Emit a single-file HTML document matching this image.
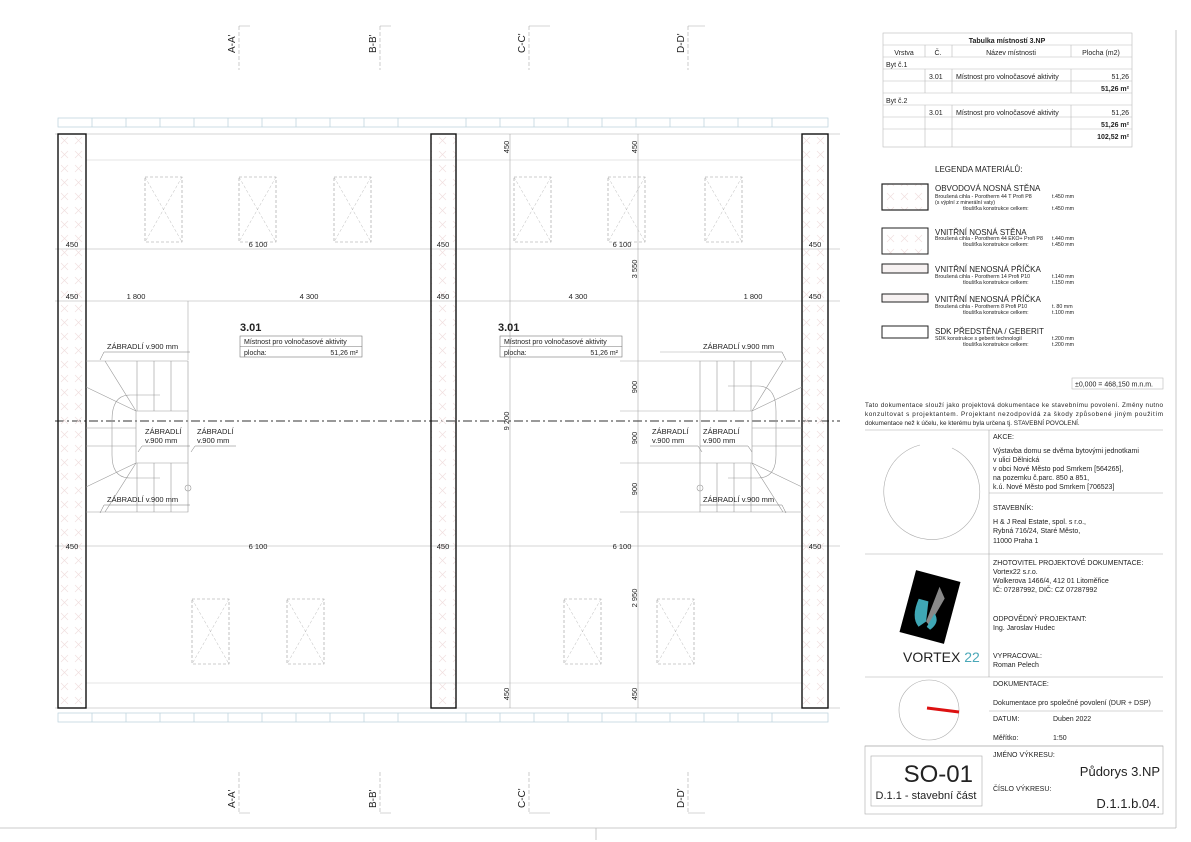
<!DOCTYPE html>
<html><head><meta charset="utf-8"><style>
html,body{margin:0;padding:0;background:#fff}
svg{display:block}
text{font-family:"Liberation Sans",sans-serif;fill:#222}
</style></head><body>
<svg width="1191" height="842" viewBox="0 0 1191 842" xmlns="http://www.w3.org/2000/svg">
<defs>
<pattern id="hx" x="58" y="134" width="14" height="14" patternUnits="userSpaceOnUse">
<path d="M3 3 L10 10 M10 3 L3 10" stroke="#f0dede" stroke-width="0.7"/>
</pattern>
<g id="win"><rect x="0" y="0" width="37" height="65" fill="none" stroke="#999" stroke-width="0.6" stroke-dasharray="3 2"/><path d="M0 0 L37 65 M37 0 L0 65" stroke="#bbb" stroke-width="0.5" stroke-dasharray="3 2"/></g>
</defs>

<!-- parapet bands -->
<g stroke="#b9d0dc" stroke-width="0.7" fill="none">
<rect x="58" y="118" width="770" height="9"/>
<rect x="58" y="713" width="770" height="9"/>
<path d="M92 118v9M126 118v9M160 118v9M194 118v9M228 118v9M262 118v9M296 118v9M330 118v9M364 118v9M398 118v9M466 118v9M500 118v9M534 118v9M568 118v9M602 118v9M636 118v9M670 118v9M704 118v9M738 118v9M772 118v9
M92 713v9M126 713v9M160 713v9M194 713v9M228 713v9M262 713v9M296 713v9M330 713v9M364 713v9M398 713v9M466 713v9M500 713v9M534 713v9M568 713v9M602 713v9M636 713v9M670 713v9M704 713v9M738 713v9M772 713v9"/>
</g>

<!-- dimension lines -->
<g stroke="#aaa" stroke-width="0.6" fill="none">
<path d="M55 134H840 M55 708H840"/>
<path d="M55 249H840 M55 301H840 M55 546H840"/>
<path d="M86 160H802 M86 683H802" stroke="#ccc"/>
<path d="M510 134V708 M638 134V708 M188 301V360 M700 352H660"/>
<path d="M620 361H700 M620 411H700 M620 463H700 M620 512H700"/>
</g>
<path d="M55 421H840" stroke="#333" stroke-width="1" stroke-dasharray="9 3 2 3"/>

<!-- walls -->
<g stroke="#111" stroke-width="1.4">
<rect x="58" y="134" width="28" height="574" fill="url(#hx)"/>
<rect x="431" y="134" width="25" height="574" fill="url(#hx)"/>
<rect x="802" y="134" width="26" height="574" fill="url(#hx)"/>
</g>

<!-- windows -->
<use href="#win" x="145" y="177"/><use href="#win" x="239" y="177"/><use href="#win" x="334" y="177"/>
<use href="#win" x="514" y="177"/><use href="#win" x="608" y="177"/><use href="#win" x="705" y="177"/>
<use href="#win" x="192" y="599"/><use href="#win" x="287" y="599"/>
<use href="#win" x="564" y="599"/><use href="#win" x="657" y="599"/>

<!-- stairs left -->
<g stroke="#999" stroke-width="0.6" fill="none">
<path d="M86 361H188V512H86 M136 411H188V463H136Z M137 361V411 M154 361V411 M171 361V411 M137 463V512 M154 463V512 M171 463V512
M86 428H136 M86 446H136 M136 411L86 387 M136 411L105 361 M136 463L86 487 M136 463L105 512
M160 395H130Q112 395 112 420V455Q112 478 130 478H160"/>
<circle cx="188" cy="488" r="3"/>
</g>
<!-- stairs right -->
<g stroke="#999" stroke-width="0.6" fill="none">
<path d="M802 361H700V512H802 M752 411H700V463H752Z M751 361V411 M734 361V411 M717 361V411 M751 463V512 M734 463V512 M717 463V512
M752 428H802 M752 446H802 M752 411L802 387 M752 411L783 361 M752 463L802 487 M752 463L783 512
M728 386H758Q776 386 776 411V455Q776 478 758 478H728"/>
<circle cx="700" cy="488" r="3"/>
</g>

<!-- dimension texts -->
<g font-size="7.5" text-anchor="middle">
<text x="72" y="247">450</text><text x="258" y="247">6 100</text><text x="443" y="247">450</text><text x="622" y="247">6 100</text><text x="815" y="247">450</text>
<text x="72" y="299">450</text><text x="136" y="299">1 800</text><text x="309" y="299">4 300</text><text x="443" y="299">450</text><text x="578" y="299">4 300</text><text x="753" y="299">1 800</text><text x="815" y="299">450</text>
<text x="72" y="549">450</text><text x="258" y="549">6 100</text><text x="443" y="549">450</text><text x="622" y="549">6 100</text><text x="815" y="549">450</text>
<text transform="translate(509,147) rotate(-90)">450</text>
<text transform="translate(637,147) rotate(-90)">450</text>
<text transform="translate(637,269) rotate(-90)">3 550</text>
<text transform="translate(509,421) rotate(-90)">9 200</text>
<text transform="translate(637,387) rotate(-90)">900</text>
<text transform="translate(637,438) rotate(-90)">900</text>
<text transform="translate(637,489) rotate(-90)">900</text>
<text transform="translate(637,598) rotate(-90)">2 950</text>
<text transform="translate(509,694) rotate(-90)">450</text>
<text transform="translate(637,694) rotate(-90)">450</text>
</g>

<!-- room labels -->
<text x="240" y="331" font-size="11" font-weight="bold">3.01</text>
<rect x="240" y="336" width="122" height="21" fill="none" stroke="#777" stroke-width="0.6"/><path d="M240 346.5H362" stroke="#777" stroke-width="0.6"/>
<text x="244" y="344" font-size="7">Místnost pro volnočasové aktivity</text><text x="244" y="355" font-size="7">plocha:</text><text x="358" y="355" font-size="7" text-anchor="end">51,26 m²</text>
<text x="498" y="331" font-size="11" font-weight="bold">3.01</text>
<rect x="500" y="336" width="122" height="21" fill="none" stroke="#777" stroke-width="0.6"/><path d="M500 346.5H622" stroke="#777" stroke-width="0.6"/>
<text x="504" y="344" font-size="7">Místnost pro volnočasové aktivity</text><text x="504" y="355" font-size="7">plocha:</text><text x="618" y="355" font-size="7" text-anchor="end">51,26 m²</text>

<g font-size="7.5">
<text x="107" y="349">ZÁBRADLÍ v.900 mm</text>
<text x="145" y="434">ZÁBRADLÍ</text><text x="145" y="443">v.900 mm</text>
<text x="197" y="434">ZÁBRADLÍ</text><text x="197" y="443">v.900 mm</text>
<text x="107" y="502">ZÁBRADLÍ v.900 mm</text>
<text x="703" y="349">ZÁBRADLÍ v.900 mm</text>
<text x="652" y="434">ZÁBRADLÍ</text><text x="652" y="443">v.900 mm</text>
<text x="703" y="434">ZÁBRADLÍ</text><text x="703" y="443">v.900 mm</text>
<text x="703" y="502">ZÁBRADLÍ v.900 mm</text>
</g>
<g stroke="#777" stroke-width="0.5" fill="none">
<path d="M104 352H190 M104 352L100 360 M142 446H190 M142 446L138 452 M195 446H236 M195 446L191 452 M104 505H190 M104 505L100 513
M700 352H782L786 360 M650 446H698L702 452 M700 446H748L752 452 M700 505H782L786 513"/>
</g>

<!-- section marks -->
<g font-size="10">
<text transform="translate(235,53) rotate(-90)" fill="#2a3a55">A-A'</text>
<text transform="translate(376,53) rotate(-90)" fill="#2a3a55">B-B'</text>
<text transform="translate(525,53) rotate(-90)" fill="#2a3a55">C-C'</text>
<text transform="translate(684,53) rotate(-90)" fill="#2a3a55">D-D'</text>
<text transform="translate(235,808) rotate(-90)" fill="#2a3a55">A-A'</text>
<text transform="translate(376,808) rotate(-90)" fill="#2a3a55">B-B'</text>
<text transform="translate(525,808) rotate(-90)" fill="#2a3a55">C-C'</text>
<text transform="translate(684,808) rotate(-90)" fill="#2a3a55">D-D'</text>
</g>
<g stroke="#aaa" stroke-width="0.6" fill="none" stroke-dasharray="4 2">
<path d="M239 26V70 M380 26V70 M529 26V70 M688 26V70 M239 772V812 M380 772V812 M529 772V812 M688 772V812"/>
</g>
<g stroke="#aaa" stroke-width="0.6" fill="none">
<path d="M239 26H250 M380 26H391 M529 26H550 M688 26H705 M239 813H250 M380 813H391 M529 813H550 M688 813H705"/>
</g>

<!-- sheet borders -->
<path d="M0 828H1176 M1176 30V828 M596 828V840" stroke="#bbb" stroke-width="0.8" fill="none"/>

<!-- room table -->
<g stroke="#bbb" stroke-width="0.6" fill="none">
<rect x="883" y="33" width="249" height="114"/>
<path d="M883 45H1132 M883 57H1132 M883 69H1132 M883 81H1132 M883 93H1132 M883 105H1132 M883 117H1132 M883 129H1132"/>
<path d="M925 45V57 M952 45V57 M1071 45V57 M925 69V93 M952 69V93 M1071 69V93 M925 105V147 M952 105V147 M1071 105V147"/>
</g>
<g font-size="7">
<text x="1007" y="43" text-anchor="middle" font-weight="bold">Tabulka místností 3.NP</text>
<text x="904" y="55" text-anchor="middle">Vrstva</text><text x="938" y="55" text-anchor="middle">Č.</text><text x="1011" y="55" text-anchor="middle">Název místnosti</text><text x="1101" y="55" text-anchor="middle">Plocha (m2)</text>
<text x="886" y="67">Byt č.1</text>
<text x="929" y="79">3.01</text><text x="956" y="79">Místnost pro volnočasové aktivity</text><text x="1129" y="79" text-anchor="end">51,26</text>
<text x="1129" y="91" text-anchor="end" font-weight="bold">51,26 m²</text>
<text x="886" y="103">Byt č.2</text>
<text x="929" y="115">3.01</text><text x="956" y="115">Místnost pro volnočasové aktivity</text><text x="1129" y="115" text-anchor="end">51,26</text>
<text x="1129" y="127" text-anchor="end" font-weight="bold">51,26 m²</text>
<text x="1129" y="139" text-anchor="end" font-weight="bold">102,52 m²</text>
</g>

<!-- legend -->
<text x="935" y="172" font-size="8">LEGENDA MATERIÁLŮ:</text>
<rect x="882" y="184" width="46" height="26" fill="url(#hx)" stroke="#222" stroke-width="1.2"/>
<rect x="882" y="228" width="46" height="26" fill="url(#hx)" stroke="#222" stroke-width="1"/>
<rect x="882" y="264" width="46" height="9" fill="#f7f2f2" stroke="#222" stroke-width="1"/>
<rect x="882" y="294" width="46" height="8" fill="#f7f2f2" stroke="#222" stroke-width="1"/>
<rect x="882" y="326" width="46" height="12" fill="none" stroke="#222" stroke-width="1"/>
<g font-size="8">
<text x="935" y="191">OBVODOVÁ NOSNÁ STĚNA</text>
<text x="935" y="235">VNITŘNÍ NOSNÁ STĚNA</text>
<text x="935" y="272">VNITŘNÍ NENOSNÁ PŘÍČKA</text>
<text x="935" y="302">VNITŘNÍ NENOSNÁ PŘÍČKA</text>
<text x="935" y="334">SDK PŘEDSTĚNA / GEBERIT</text>
</g>
<g font-size="5.3">
<text x="935" y="198">Broušená cihla - Porotherm 44 T Profi P8</text><text x="935" y="204">(s výplní z minerální vaty)</text><text x="963" y="210">tloušťka konstrukce celkem:</text>
<text x="1052" y="198">t.450 mm</text><text x="1052" y="210">t.450 mm</text>
<text x="935" y="240">Broušená cihla - Porotherm 44 EKO+ Profi P8</text><text x="963" y="246">tloušťka konstrukce celkem:</text>
<text x="1052" y="240">t.440 mm</text><text x="1052" y="246">t.450 mm</text>
<text x="935" y="278">Broušená cihla - Porotherm 14 Profi P10</text><text x="963" y="284">tloušťka konstrukce celkem:</text>
<text x="1052" y="278">t.140 mm</text><text x="1052" y="284">t.150 mm</text>
<text x="935" y="308">Broušená cihla - Porotherm 8 Profi P10</text><text x="963" y="314">tloušťka konstrukce celkem:</text>
<text x="1052" y="308">t.  80 mm</text><text x="1052" y="314">t.100 mm</text>
<text x="935" y="340">SDK konstrukce s geberit technologií</text><text x="963" y="346">tloušťka konstrukce celkem:</text>
<text x="1052" y="340">t.200 mm</text><text x="1052" y="346">t.200 mm</text>
</g>
<rect x="1072" y="378" width="91" height="11" fill="none" stroke="#bbb" stroke-width="0.6"/>
<text x="1075" y="386.5" font-size="7">±0,000 = 468,150 m.n.m.</text>

<!-- note -->
<g font-size="6.3">
<text x="865" y="407" textLength="298" lengthAdjust="spacing">Tato dokumentace slouží jako projektová dokumentace ke stavebnímu povolení. Změny nutno</text>
<text x="865" y="416" textLength="298" lengthAdjust="spacing">konzultovat s projektantem. Projektant nezodpovídá za škody způsobené jiným použitím</text>
<text x="865" y="425">dokumentace než k účelu, ke kterému byla určena tj. STAVEBNÍ POVOLENÍ.</text>
</g>

<!-- title block lines -->
<g stroke="#aaa" stroke-width="0.6" fill="none">
<path d="M865 430H1163 M989 430V677 M989 493H1163 M865 554H1163 M865 677H1163 M989 711H1163 M865 746H1163"/>
<rect x="865" y="746" width="298" height="68"/>
<rect x="871" y="756" width="111" height="50"/>
<path d="M920 445A48 48 0 1 0 952 448"/>
<circle cx="929" cy="710" r="30"/>
</g>
<path d="M927 708L959 712" stroke="#d11" stroke-width="3"/>
<!-- logo -->
<g transform="translate(930,607) rotate(15)">
<rect x="-23" y="-32" width="46" height="64" fill="#000"/>
<path d="M-13 -5 L-3 -5 L0 15 L-6 22 Q-16 15 -13 -5Z" fill="#3fa7b5"/>
<path d="M4 -22 L12 -12 L4 18 L0 15Z" fill="#888"/>
<path d="M6 5 Q14 12 6 22 L2 20Z" fill="#3fa7b5"/>
</g>
<text x="903" y="662" font-size="14">VORTEX <tspan fill="#4aa8b8">22</tspan></text>

<g font-size="7">
<text x="993" y="439">AKCE:</text>
<text x="993" y="453">Výstavba domu se dvěma bytovými jednotkami</text>
<text x="993" y="462">v ulici Dělnická</text>
<text x="993" y="471">v obci Nové Město pod Smrkem [564265],</text>
<text x="993" y="480">na pozemku č.parc. 850 a 851,</text>
<text x="993" y="489">k.ú. Nové Město pod Smrkem [706523]</text>
<text x="993" y="510">STAVEBNÍK:</text>
<text x="993" y="524">H &amp; J Real Estate, spol. s r.o.,</text>
<text x="993" y="533">Rybná 716/24, Staré Město,</text>
<text x="993" y="543">11000 Praha 1</text>
<text x="993" y="565">ZHOTOVITEL PROJEKTOVÉ DOKUMENTACE:</text>
<text x="993" y="574">Vortex22 s.r.o.</text>
<text x="993" y="583">Wolkerova 1466/4, 412 01 Litoměřice</text>
<text x="993" y="592">IČ: 07287992, DIČ: CZ 07287992</text>
<text x="993" y="621">ODPOVĚDNÝ PROJEKTANT:</text>
<text x="993" y="630">Ing. Jaroslav Hudec</text>
<text x="993" y="658">VYPRACOVAL:</text>
<text x="993" y="667">Roman Pelech</text>
<text x="993" y="686">DOKUMENTACE:</text>
<text x="993" y="705">Dokumentace pro společné povolení (DUR + DSP)</text>
<text x="993" y="721">DATUM:</text><text x="1053" y="721">Duben 2022</text>
<text x="993" y="740">Měřítko:</text><text x="1053" y="740">1:50</text>
<text x="993" y="757">JMÉNO VÝKRESU:</text>
<text x="993" y="791">ČÍSLO VÝKRESU:</text>
</g>
<text x="1160" y="776" font-size="13" text-anchor="end">Půdorys 3.NP</text>
<text x="1160" y="808" font-size="13" text-anchor="end">D.1.1.b.04.</text>
<text x="973" y="782" font-size="24" text-anchor="end">SO-01</text>
<text x="926" y="799" font-size="11" text-anchor="middle">D.1.1 - stavební část</text>
</svg>
</body></html>
